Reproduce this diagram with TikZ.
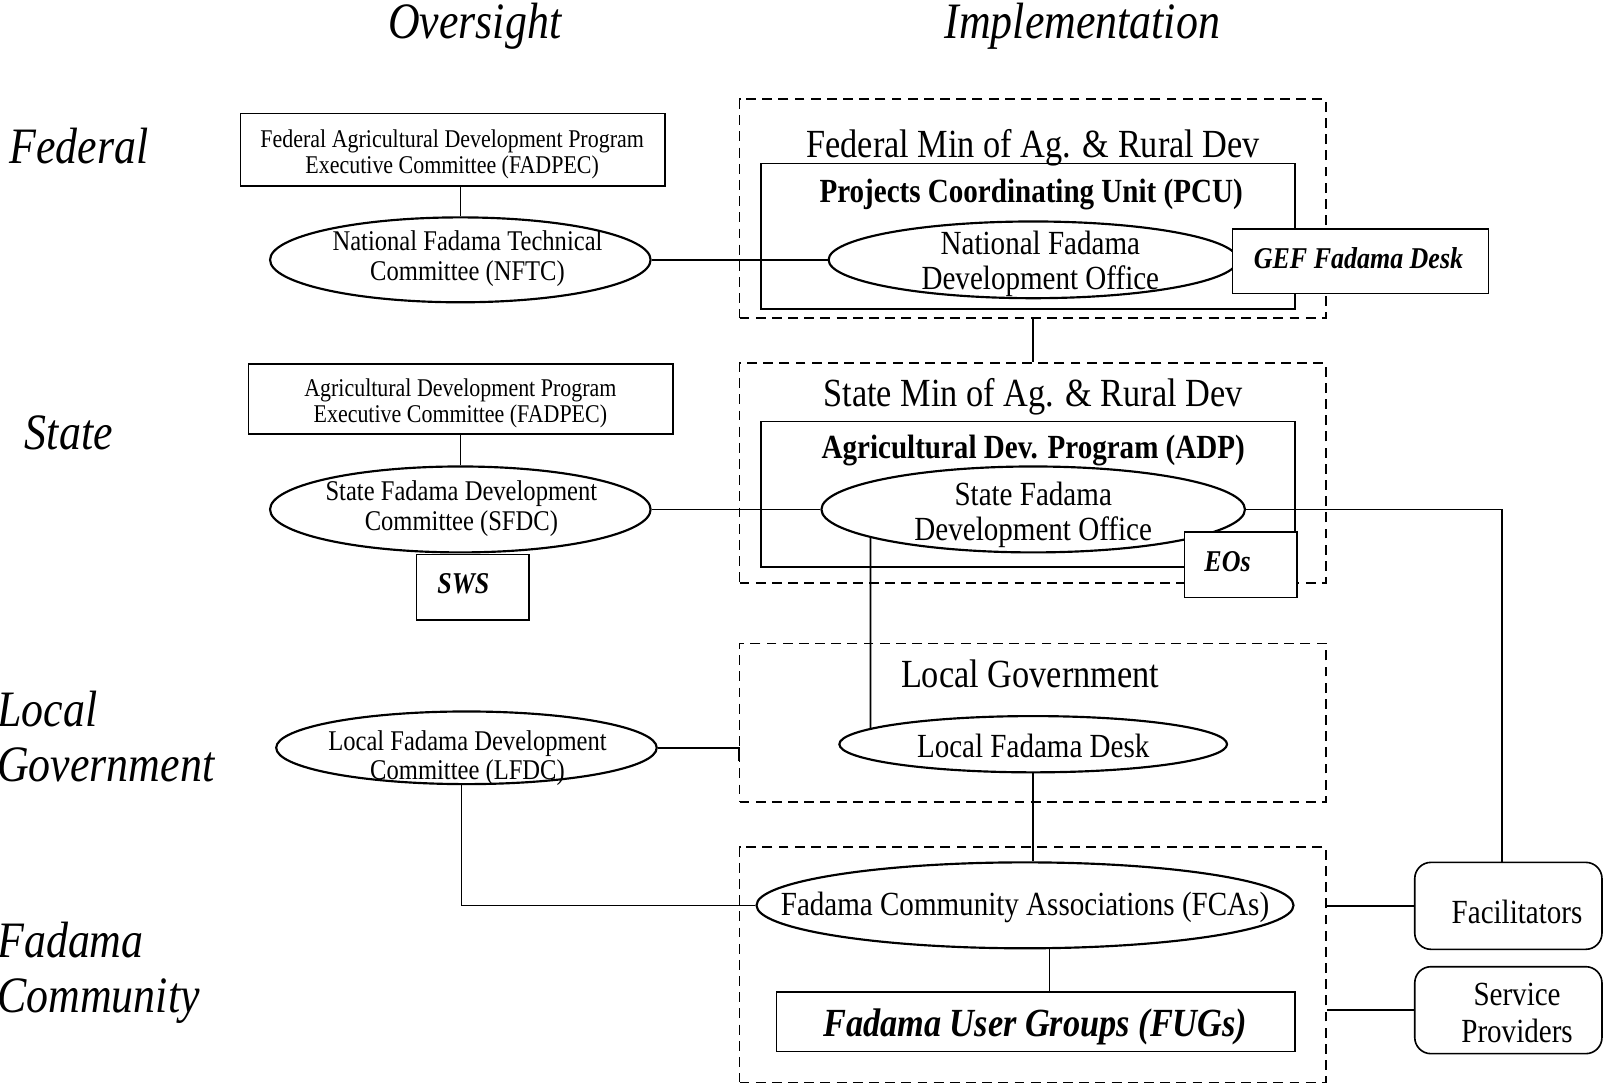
\documentclass[tikz,border=0pt]{standalone}
\usepackage{fontspec}
\setmainfont{Liberation Serif}[FakeStretch=0.86]
\usetikzlibrary{shapes.geometric,intersections}
\newcommand\fHdr{\fontsize{28.4pt}{30.5pt}\selectfont\itshape}
\newcommand\fTtl{\fontsize{22.2pt}{24pt}\selectfont}
\newcommand\fMain{\fontsize{18.8pt}{19.4pt}\selectfont}
\newcommand\fBI{\fontsize{16.8pt}{18pt}\selectfont\bfseries\itshape}
\newcommand\fEll{\fontsize{15.9pt}{16.5pt}\selectfont}
\newcommand\fBx{\fontsize{14.2pt}{14.3pt}\selectfont}
\tikzset{
  px/.style 2 args={minimum width=#1*0.02cm, minimum height=#2*0.02cm},
  sbox/.style={draw, rectangle, inner sep=0pt, line width=0.9pt, fill=white},
  dbox/.style={draw, rectangle, inner sep=0pt, line width=0.9pt, dash pattern=on 5.5pt off 3.5pt},
  rbox/.style={draw, rectangle, rounded corners=9pt, inner sep=0pt, line width=0.9pt, fill=white},
  ell/.style={draw, ellipse, inner sep=0pt, line width=1.2pt, fill=white},
  txt/.style={inner sep=0pt, align=center, yshift=-0.06cm},
  conn/.style={line width=0.9pt},
}
\begin{document}
\begin{tikzpicture}[x=0.02cm, y=-0.02cm]
\useasboundingbox (0,0) rectangle (1568,1062);
% headers
\node[txt, font=\fHdr] (hover) at (464,23) {Oversight};
\node[txt, font=\fHdr] (himpl) at (1058,23) {Implementation};
\node[txt, font=\fHdr, anchor=west] (lfed) at (9,140) {Federal};
\node[txt, font=\fHdr, anchor=west] (lstate) at (24,420) {State};
\node[txt, font=\fHdr, anchor=west, align=left] (llg) at (-3,717) {Local\\Government};
\node[txt, font=\fHdr, anchor=west, align=left] (lfc) at (-3,948) {Fadama\\Community};

% right column containers
\node[dbox, px={573}{214}] (fedbox) at (1009.5,204) {};
\node[dbox, px={573}{215}] (statebox) at (1009.5,462.5) {};
\node[dbox, px={573}{155}] (lgbox) at (1009.5,706.5) {};
\node[dbox, px={573}{230}] (commbox) at (1009.5,943) {};

\draw[conn] (fedbox.south) -- (statebox.north);

% federal
\node[txt, font=\fTtl] (fedttl) at (1010,141) {Federal Min of Ag. \& Rural Dev};
\node[sbox, px={522}{142}, fill=none] (pcu) at (1005,231) {};
\node[txt, font=\fMain\bfseries] (pcuttl) at (1008,187) {Projects Coordinating Unit (PCU)};
\node[ell, px={400}{75}] (nfdo) at (1010,254) {};
\node[txt, font=\fMain] (nfdot) at (1017,255) {National Fadama\\Development Office};
\node[sbox, px={250}{63}] (gef) at (1330,255.5) {};
\node[txt, font=\fBI] (geft) at (1328,249) {GEF Fadama Desk};

% state
\node[txt, font=\fTtl] (statettl) at (1010,385) {State Min of Ag. \& Rural Dev};
\node[sbox, px={522}{142}, fill=none] (adp) at (1005,483) {};
\node[txt, font=\fMain\bfseries] (adpttl) at (1010,437) {Agricultural Dev. Program (ADP)};
\node[ell, px={414}{84}, name path=sfdoP] (sfdo) at (1010,498) {};
\node[txt, font=\fMain] (sfdot) at (1010,500) {State Fadama\\Development Office};
\node[sbox, px={110}{64}] (eos) at (1213,552) {};
\node[txt, font=\fBI] (eost) at (1200,546) {EOs};

% local government
\node[txt, font=\fTtl] (lgttl) at (1007,656) {Local Government};
\node[ell, px={379}{55}, name path=lfdP] (lfd) at (1010,727.5) {};
\node[txt, font=\fMain] (lfdt) at (1010,726) {Local Fadama Desk};

% community
\node[ell, px={525}{84}] (fca) at (1002,885) {};
\node[txt, font=\fMain] (fcat) at (1002,884) {Fadama Community Associations (FCAs)};
\node[sbox, px={507}{58}] (fug) at (1012.5,999) {};
\node[txt, font=\fTtl\bfseries\itshape] (fugt) at (1012,1001) {Fadama User Groups (FUGs)};

\node[rbox, px={183}{85}] (facil) at (1474.5,885.5) {};
\node[txt, font=\fMain] (facilt) at (1483,888) {Facilitators};
\node[rbox, px={183}{85}] (sp) at (1474.5,987.5) {};
\node[txt, font=\fMain, align=center] (spt) at (1483,987) {Service\\[1pt]Providers};

% left column
\node[sbox, px={415}{71}] (fadpec) at (442.5,146.5) {};
\node[txt, font=\fBx] (fadpect) at (442,148) {Federal Agricultural Development Program\\Executive Committee (FADPEC)};
\node[ell, px={372}{83}] (nftc) at (450,254) {};
\node[txt, font=\fEll] (nftct) at (457,250) {National Fadama Technical\\Committee (NFTC)};

\node[sbox, px={415}{68}] (adpec) at (450.5,390) {};
\node[txt, font=\fBx] (adpect) at (450,391) {Agricultural Development Program\\Executive Committee (FADPEC)};
\node[ell, px={372}{84}] (sfdc) at (450,498) {};
\node[txt, font=\fEll] (sfdct) at (451,494) {State Fadama Development\\Committee (SFDC)};
\node[sbox, px={110}{64}] (sws) at (462,574) {};
\node[txt, font=\fBI] (swst) at (453,568) {SWS};

\node[ell, px={372}{71}] (lfdc) at (456,731) {};
\node[txt, font=\fEll] (lfdct) at (457,738) {Local Fadama Development\\Committee (LFDC)};

% connectors
\draw[conn] (nftc.north) -- (nftc.north |- fadpec.south);
\draw[conn] (sfdc.north) -- (sfdc.north |- adpec.south);
\draw[conn] (nftc.east) -- (nfdo.west);
\draw[conn] (sfdc.east) -- (sfdo.west);
\draw[conn] (sfdo.east) -| ([xshift=-0.13cm]facil.north);
\coordinate (vtop) at (851,400);
\coordinate (vbot) at (851,800);
\path[name path=vline] (vtop) -- (vbot);
\path[name intersections={of=vline and sfdoP, sort by=vline, name=ia}];
\path[name intersections={of=vline and lfdP, sort by=vline, name=ib}];
\draw[conn] (ia-2) -- (ib-1);
\draw[conn] (lfd.south) -- (lfd.south |- fca.north);
\draw[conn] ([xshift=0.48cm]fca.south) -- ([xshift=0.48cm]fca.south |- fug.north);
\draw[conn] ([xshift=-0.1cm]lfdc.south) |- (fca.west);
\draw[conn] (lfdc.east) -- (lfdc.east -| lgbox.west) -- ++(0,13);
\draw[conn] (facil.west) -- (facil.west -| commbox.east);
\draw[conn] (sp.west) -- (sp.west -| commbox.east);
\end{tikzpicture}
\end{document}
